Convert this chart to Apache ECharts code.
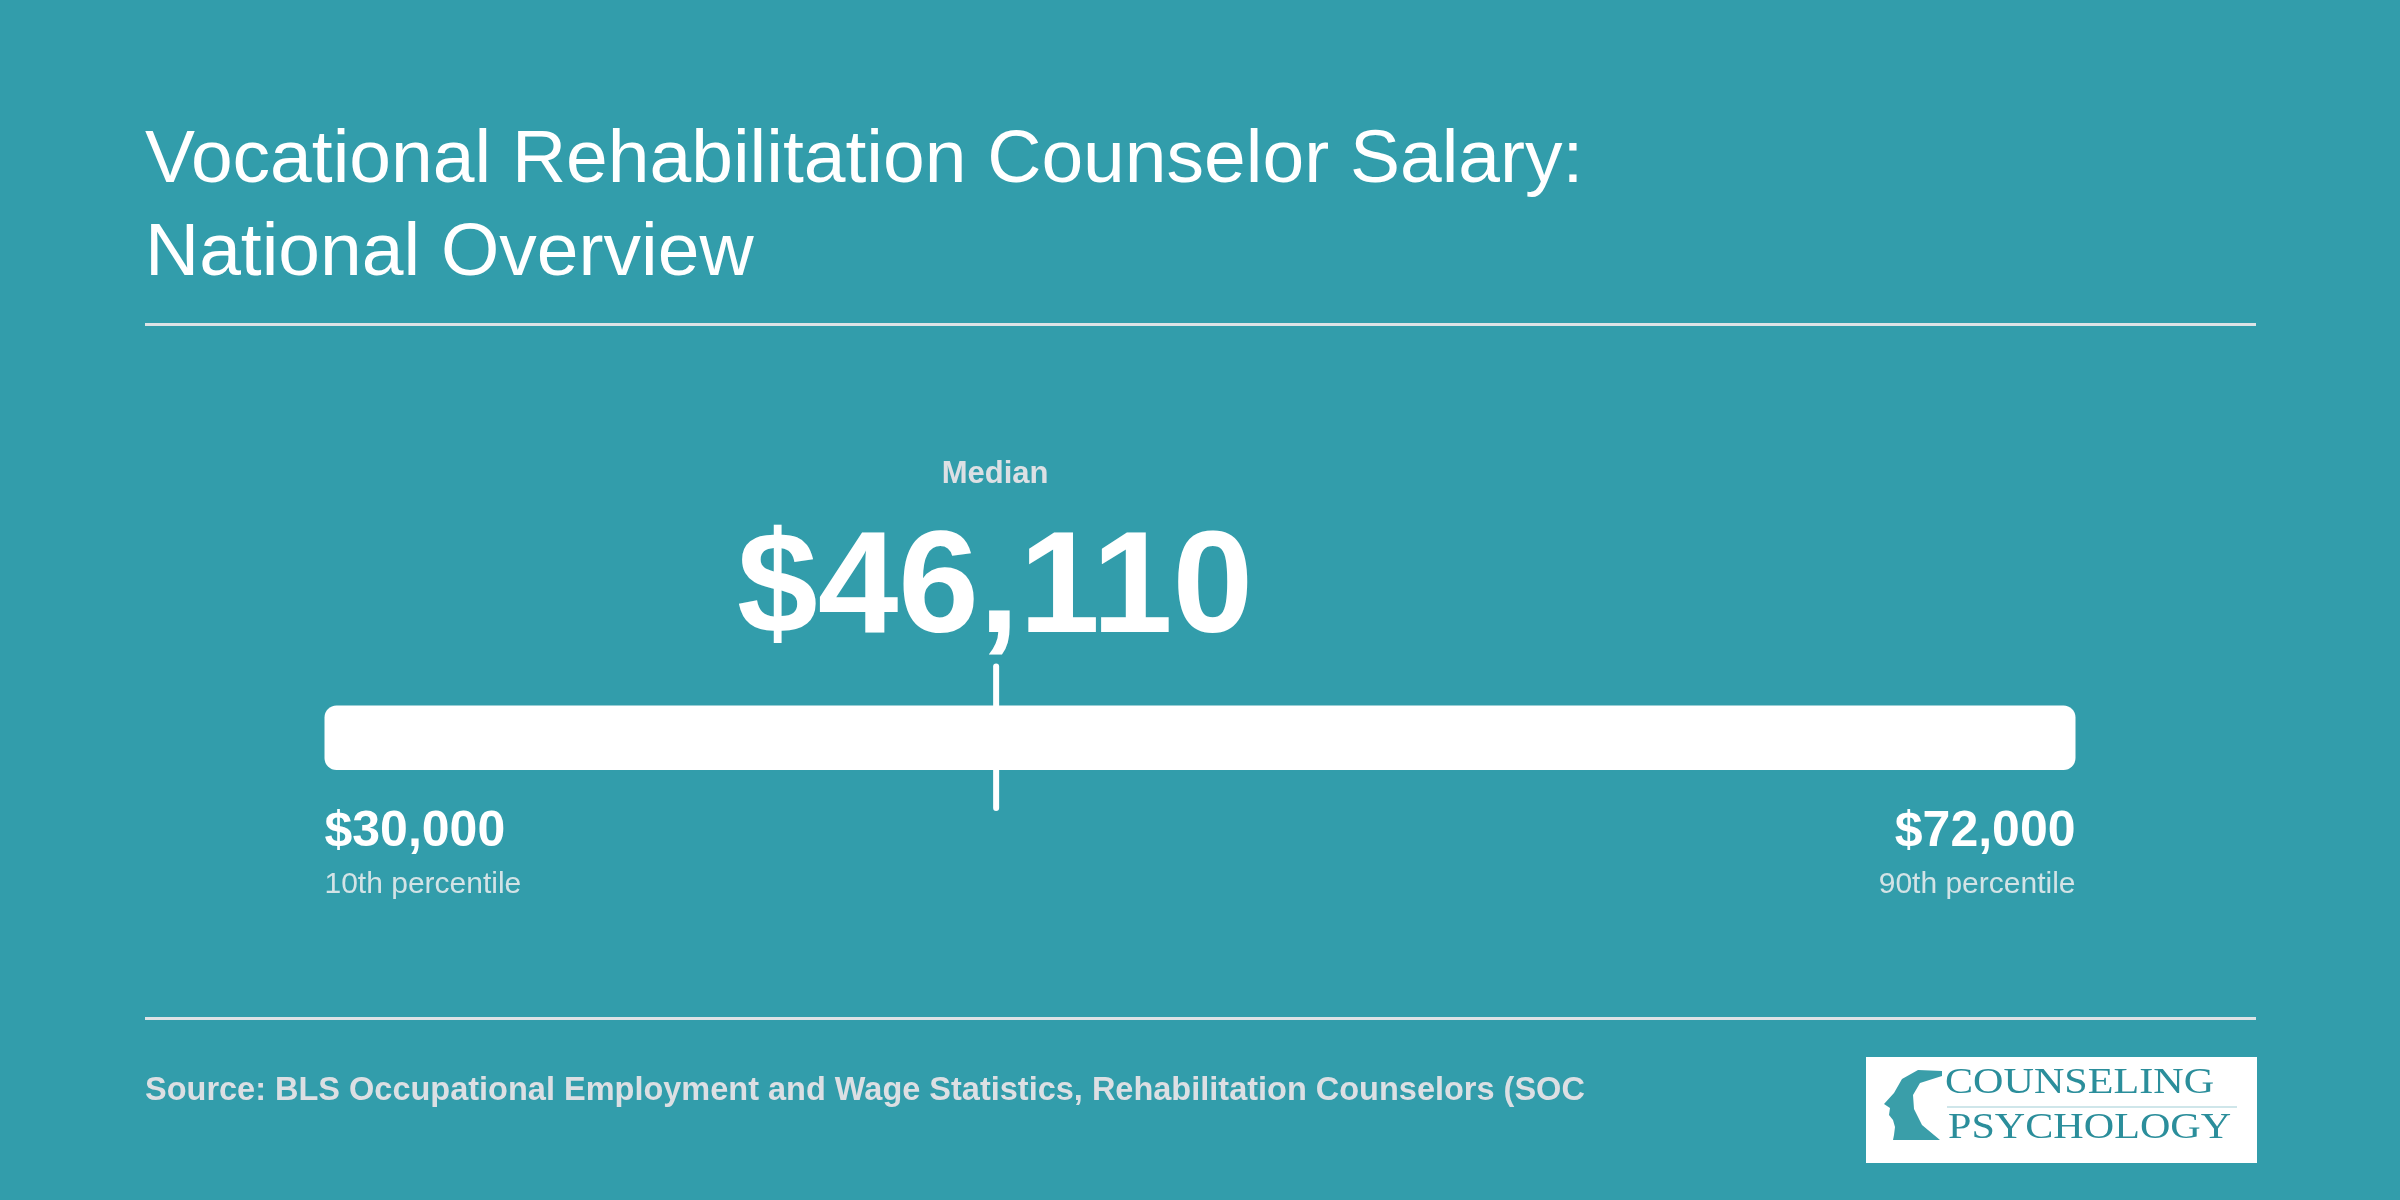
<!DOCTYPE html>
<html>
<head>
<meta charset="utf-8">
<script src="https://cdn.jsdelivr.net/npm/echarts@6/dist/echarts.min.js"></script>
<style>
  html, body { margin: 0; padding: 0; background: #329dab; }
  #chart { width: 2400px; height: 1200px; }
</style>
</head>
<body>
<div id="chart"></div>
<script>
// 数据
var pointNames = ['10th percentile', 'Median', '90th percentile'];
var salaryValues = [30000, 46110, 72000];
var titleLines = ['Vocational Rehabilitation Counselor Salary:', 'National Overview'];
var sourceText = 'Source: BLS Occupational Employment and Wage Statistics, Rehabilitation Counselors (SOC';

var bg = '#329dab';
var ruleColor = '#dde3e6';
var font = '"Liberation Sans", Arial, Helvetica, sans-serif';

function money(v) {
  return '$' + String(v).replace(/\B(?=(\d{3})+(?!\d))/g, ',');
}

var chart = echarts.init(document.getElementById('chart'));

// 自定义绘制：区间条 + 中位数刻度 + 文字
function renderItem(params, api) {
  var lo = api.coord([api.value(0), 1]);
  var mid = api.coord([api.value(1), 1]);
  var hi = api.coord([api.value(2), 0]);
  var top = lo[1], bottom = hi[1];
  return {
    type: 'group',
    children: [
      {
        type: 'rect',
        shape: { x: lo[0], y: top, width: hi[0] - lo[0], height: bottom - top, r: 12 },
        style: { fill: '#ffffff' }
      },
      {
        type: 'line',
        shape: { x1: mid[0], y1: top - 39, x2: mid[0], y2: bottom + 38 },
        style: { stroke: '#ffffff', lineWidth: 6, lineCap: 'round' }
      },
      {
        type: 'text',
        style: {
          x: mid[0] - 1, y: top - 231,
          text: pointNames[1],
          fill: '#dde0e4', font: 'bold 31px ' + font,
          align: 'center', verticalAlign: 'middle'
        }
      },
      {
        type: 'text',
        style: {
          x: mid[0] - 1, y: top - 114,
          text: money(api.value(1)),
          fill: '#ffffff', font: 'bold 145px ' + font,
          align: 'center', verticalAlign: 'middle'
        }
      },
      {
        type: 'text',
        style: {
          x: lo[0], y: bottom + 62,
          text: money(api.value(0)),
          fill: '#ffffff', font: 'bold 50px ' + font,
          align: 'left', verticalAlign: 'middle'
        }
      },
      {
        type: 'text',
        style: {
          x: lo[0], y: bottom + 115,
          text: pointNames[0],
          fill: '#d3e3e6', font: '30px ' + font,
          align: 'left', verticalAlign: 'middle'
        }
      },
      {
        type: 'text',
        style: {
          x: hi[0], y: bottom + 62,
          text: money(api.value(2)),
          fill: '#ffffff', font: 'bold 50px ' + font,
          align: 'right', verticalAlign: 'middle'
        }
      },
      {
        type: 'text',
        style: {
          x: hi[0], y: bottom + 115,
          text: pointNames[2],
          fill: '#d3e3e6', font: '30px ' + font,
          align: 'right', verticalAlign: 'middle'
        }
      }
    ]
  };
}

var logoTeal = '#2b8e9b';
var logoFont = '36px "Liberation Serif", "DejaVu Serif", serif';

var option = {
  backgroundColor: bg,
  animation: false,
  title: {
    text: titleLines.join('\n'),
    left: 145,
    top: 115,
    padding: 0,
    textStyle: {
      color: '#ffffff',
      fontFamily: font,
      fontWeight: 'normal',
      fontSize: 75,
      lineHeight: 93
    }
  },
  grid: { left: 324.5, right: 324.5, top: 705.6, height: 64.4 },
  xAxis: {
    type: 'value',
    min: salaryValues[0],
    max: salaryValues[2],
    show: false
  },
  yAxis: { type: 'value', min: 0, max: 1, show: false },
  series: [{
    type: 'custom',
    renderItem: renderItem,
    encode: { x: [0, 1, 2] },
    data: [salaryValues]
  }],
  graphic: [
    {
      type: 'rect',
      shape: { x: 145, y: 323, width: 2111, height: 3 },
      style: { fill: ruleColor }
    },
    {
      type: 'rect',
      shape: { x: 145, y: 1017, width: 2111, height: 3 },
      style: { fill: ruleColor }
    },
    {
      type: 'text',
      x: 145,
      y: 1091,
      style: {
        text: sourceText,
        fill: '#dcdfe3',
        font: 'bold 32.5px ' + font,
        verticalAlign: 'middle'
      }
    },
    // logo
    {
      type: 'group',
      x: 1866,
      y: 1057,
      children: [
        { type: 'rect', shape: { x: 0, y: 0, width: 391, height: 106 }, style: { fill: '#ffffff' } },
        {
          type: 'polygon',
          shape: {
            points: [[76, 14], [52, 13], [36, 22], [28, 36], [18, 47], [24, 51], [23, 58], [27, 63],
                     [29, 70], [28, 78], [27, 83], [74, 83], [56, 68], [48, 52], [47, 38], [54, 26], [76, 19]]
          },
          style: { fill: '#3a9ea9' }
        },
        {
          type: 'text',
          x: 79, y: 45, scaleX: 1.17,
          style: { text: 'COUNSELING', fill: logoTeal, font: logoFont, verticalAlign: 'bottom' }
        },
        { type: 'rect', shape: { x: 81, y: 49, width: 290, height: 2 }, style: { fill: '#cfe6ea' } },
        {
          type: 'text',
          x: 82, y: 90, scaleX: 1.17,
          style: { text: 'PSYCHOLOGY', fill: logoTeal, font: logoFont, verticalAlign: 'bottom' }
        }
      ]
    }
  ]
};

chart.setOption(option);
</script>
</body>
</html>
